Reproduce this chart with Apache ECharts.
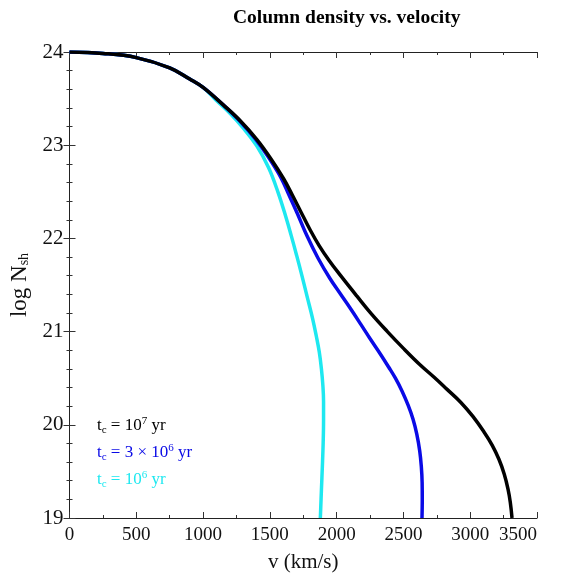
<!DOCTYPE html>
<html>
<head>
    <meta charset="utf-8">
    <title>Column density vs. velocity</title>
    <script src="https://cdn.jsdelivr.net/npm/echarts@6/dist/echarts.min.js"></script>
    <style>
        body { margin: 0; background: #fff; }
        #chart { width: 561px; height: 578px; }
    </style>
</head>
<body>
<div id="chart"></div>
<script>
    // t_c = 10^7 yr  [v (km/s), log N_sh]
    var black7 = [[0,24],[250,23.985],[500,23.94],[750,23.83],[900,23.71],[1000,23.62],[1153,23.43],[1280,23.26],
        [1403,23.06],[1510,22.85],[1603,22.64],[1670,22.46],[1727,22.3],[1802,22.09],[1870,21.92],[1945,21.76],
        [2030,21.6],[2152,21.38],[2260,21.19],[2380,21.0],[2500,20.82],[2620,20.65],[2730,20.51],[2827,20.38],
        [2930,20.24],[3020,20.09],[3100,19.93],[3165,19.78],[3215,19.63],[3255,19.47],[3283,19.31],[3300,19.17],
        [3313,19.0]];
    // t_c = 3 x 10^6 yr
    var blue3e6 = [[0,24],[250,23.985],[500,23.94],[750,23.83],[900,23.71],[1000,23.62],[1153,23.43],[1275,23.26],
        [1390,23.07],[1490,22.87],[1580,22.66],[1645,22.46],[1705,22.27],[1777,22.03],[1860,21.79],[1950,21.57],
        [2030,21.4],[2102,21.25],[2180,21.08],[2252,20.92],[2327,20.76],[2389,20.62],[2440,20.5],[2490,20.36],
        [2535,20.21],[2572,20.06],[2600,19.9],[2622,19.72],[2634,19.55],[2640,19.38],[2641,19.2],[2639,19.0]];
    // t_c = 10^6 yr
    var cyan1e6 = [[0,24],[250,23.985],[500,23.94],[750,23.83],[900,23.71],[1000,23.62],[1100,23.48],[1203,23.34],
        [1303,23.18],[1403,22.99],[1490,22.76],[1560,22.5],[1620,22.23],[1660,22.03],[1700,21.82],[1740,21.6],
        [1780,21.37],[1820,21.14],[1848,20.95],[1870,20.78],[1886,20.6],[1897,20.42],[1902,20.25],[1902,20.05],
        [1899,19.8],[1893,19.55],[1886,19.3],[1878,19.0]];

    var seriesNames = ['tc7', 'tc3e6', 'tc1e6'];
    var seriesColors = ['#000000', '#0a0ae6', '#1ee8f0'];
    var legendLabels = {
        tc7: '{t|t}{s|c}{t| = 10}{p|7}{t| yr}',
        tc3e6: '{t|t}{s|c}{t| = 3 × 10}{p|6}{t| yr}',
        tc1e6: '{t|t}{s|c}{t| = 10}{p|6}{t| yr}'
    };
    var serif = 'Liberation Serif';

    var chart = echarts.init(document.getElementById('chart'));

    function tickAxis(show) {
        return {
            axisLine: { show: true, lineStyle: { color: '#222', width: 1 } },
            axisTick: { show: true, inside: true, length: 6, lineStyle: { color: '#333' } },
            minorTick: { show: true, length: 3, lineStyle: { color: '#333' } },
            splitLine: { show: false },
            axisLabel: { show: show }
        };
    }

    var xBottom = Object.assign(tickAxis(true), {
        type: 'value', min: 0, max: 3500, interval: 500, position: 'bottom',
        name: 'v (km/s)', nameLocation: 'middle', nameGap: 34,
        nameTextStyle: { fontFamily: serif, fontSize: 21, color: '#111' }
    });
    xBottom.minorTick.splitNumber = 2;
    xBottom.axisLabel = {
        fontFamily: serif, fontSize: 19, color: '#111', margin: 8, alignMaxLabel: 'right',
        formatter: function (v) { return String(v); }
    };

    var xTop = Object.assign(tickAxis(false), {
        type: 'value', min: 0, max: 3500, interval: 500, position: 'top'
    });
    xTop.minorTick.splitNumber = 2;

    var yLeft = Object.assign(tickAxis(true), {
        type: 'value', min: 19, max: 24, interval: 1, position: 'left',
        name: '{a|log N}{b|sh}', nameLocation: 'middle', nameGap: 37, nameRotate: 90,
        nameTextStyle: {
            rich: {
                a: { fontFamily: serif, fontSize: 23, color: '#111', lineHeight: 24 },
                b: { fontFamily: serif, fontSize: 14, color: '#111', verticalAlign: 'bottom', lineHeight: 16 }
            }
        }
    });
    yLeft.minorTick.splitNumber = 5;
    yLeft.axisLabel = { fontFamily: serif, fontSize: 21, color: '#111', margin: 6 };

    var yRight = Object.assign(tickAxis(false), {
        type: 'value', min: 19, max: 24, interval: 1, position: 'right'
    });
    yRight.minorTick.splitNumber = 5;

    var series = [black7, blue3e6, cyan1e6].map(function (d, i) {
        return {
            name: seriesNames[i],
            type: 'line',
            data: d,
            showSymbol: false,
            smooth: 0.4,
            lineStyle: { color: seriesColors[i], width: 3.5 },
            itemStyle: { color: seriesColors[i] },
            z: 3 - i
        };
    });

    chart.setOption({
        animation: false,
        backgroundColor: '#fff',
        title: {
            text: 'Column density vs. velocity',
            left: 228, top: 3,
            textStyle: { fontFamily: serif, fontWeight: 'bold', fontSize: 19.5, color: '#000' }
        },
        grid: { left: 69.5, right: 24, top: 52, bottom: 60 },
        legend: {
            orient: 'vertical',
            left: 87, top: 411,
            itemWidth: 0, itemHeight: 0, itemGap: 7,
            icon: 'rect',
            data: seriesNames.map(function (n, i) {
                return { name: n, textStyle: { color: seriesColors[i] } };
            }),
            formatter: function (name) { return legendLabels[name]; },
            textStyle: {
                fontFamily: serif, fontSize: 17,
                rich: {
                    t: { fontFamily: serif, fontSize: 17, lineHeight: 20 },
                    s: { fontFamily: serif, fontSize: 11, verticalAlign: 'bottom', lineHeight: 14 },
                    p: { fontFamily: serif, fontSize: 11, verticalAlign: 'top', lineHeight: 11 }
                }
            }
        },
        xAxis: [xBottom, xTop],
        yAxis: [yLeft, yRight],
        series: series
    });
</script>
</body>
</html>
